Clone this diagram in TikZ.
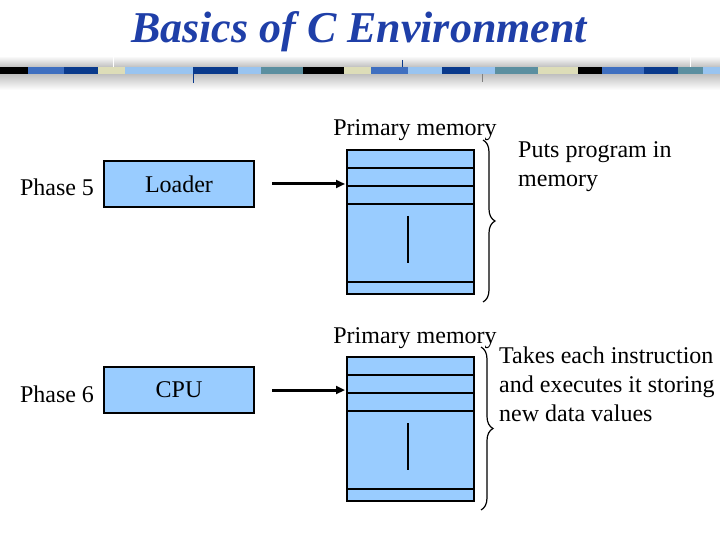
\documentclass[tikz,border=0pt]{standalone}
\usepackage{fontspec}
\setmainfont{Liberation Serif}
\usetikzlibrary{arrows.meta,decorations.pathreplacing}
\definecolor{fillb}{HTML}{99CCFF}
\definecolor{titleb}{HTML}{1F3FA8}
\definecolor{sMid}{HTML}{3F6FC0}
\definecolor{sDark}{HTML}{0A3A8C}
\definecolor{sBeige}{HTML}{DDDDB8}
\definecolor{sLight}{HTML}{99C4F0}
\definecolor{sTeal}{HTML}{5B8FA0}
\tikzset{
 box/.style={draw=black,line width=1.2pt,fill=fillb,minimum width=150pt,minimum height=46pt,inner sep=0pt,font=\fontsize{24}{28}\selectfont},
 txt/.style={font=\fontsize{24}{29}\selectfont,inner sep=0pt},
 arr/.style={-{Triangle[length=9pt,width=8pt]},line width=3pt},
 mem/.style={draw=black,line width=1.2pt,fill=fillb},
 ln/.style={line width=1.5pt},
 br/.style={decorate,decoration={brace,amplitude=12pt},line width=1.2pt}
}
\begin{document}
\begin{tikzpicture}[x=1pt,y=-1pt]
\useasboundingbox (0,0) rectangle (720,540);
\shade[top color=white,bottom color=black!25] (0,56) rectangle (720,67);
\shade[top color=black!25,bottom color=white] (0,74) rectangle (720,90);
\foreach \a/\b/\c in {0/28/black,28/64/sMid,64/98/sDark,98/125/sBeige,125/193/sLight,193/238/sDark,238/261/sLight,261/303/sTeal,303/344/black,344/371/sBeige,371/408/sMid,408/442/sLight,442/470/sDark,470/495/sLight,495/538/sTeal,538/578/sBeige,578/602/black,602/644/sMid,644/678/sDark,678/703/sTeal,703/720/sLight}
  \fill[\c] (\a,67) rectangle (\b,74);
\draw[white,line width=0.5pt] (113,56)--(113,67) (690,56)--(690,67);
\draw[sDark,line width=0.6pt] (193,74)--(193,83) (402,60)--(402,67);
\draw[gray,line width=0.4pt] (482,74)--(482,82);
\node[font=\fontsize{44}{48}\selectfont\bfseries\itshape,text=titleb] (title) at (359,32) {Basics of C Environment};
% phase 5
\node[txt] (p5) at (57,187) {Phase 5};
\node[box] (loader) at (179,184) {Loader};
\node[txt] (pm1) at (415,130) {Primary memory};
\node[mem,minimum width=127pt,minimum height=144pt,inner sep=0pt] (m1) at (410.5,222) {};
\draw[ln] (347,168)--(474,168) (347,186)--(474,186) (347,204)--(474,204) (347,282)--(474,282);
\draw[ln] (408,216)--(408,263);
\coordinate (a1) at (272,184);
\draw[arr] (a1) -- (345,184);
\draw[br] (483,140) -- (483,302);
\node[txt,align=left,anchor=north west] (t1) at (518,141) {Puts program in\\memory};
% phase 6
\node[txt] (p6) at (57,394) {Phase 6};
\node[box] (cpu) at (179,390) {CPU};
\node[txt] (pm2) at (415,338) {Primary memory};
\node[mem,minimum width=127pt,minimum height=144pt,inner sep=0pt] (m2) at (410.5,429) {};
\draw[ln] (347,375)--(474,375) (347,393)--(474,393) (347,411)--(474,411) (347,489)--(474,489);
\draw[ln] (408,423)--(408,470);
\coordinate (a2) at (272,390);
\draw[arr] (a2) -- (345,390);
\draw[br] (481,347) -- (481,510);
\node[txt,align=left,anchor=north west] (t2) at (499,347) {Takes each instruction\\and executes it storing\\new data values};
\end{tikzpicture}
\end{document}
